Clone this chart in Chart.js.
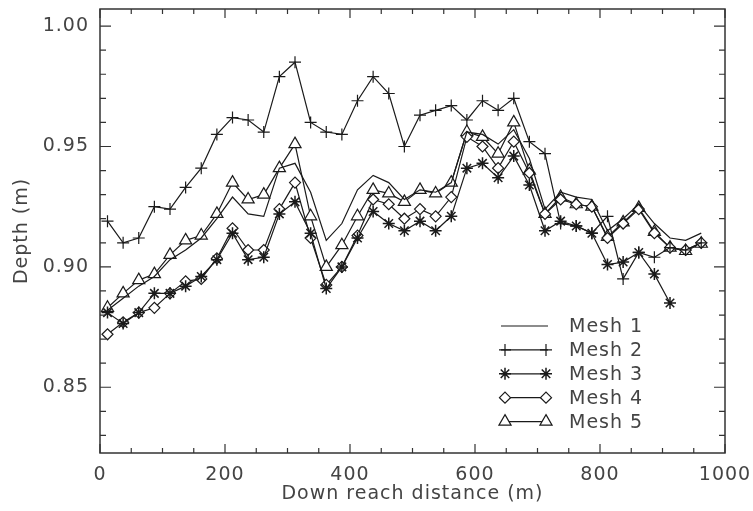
<!DOCTYPE html>
<html>
<head>
<meta charset="utf-8">
<script src="https://cdn.jsdelivr.net/npm/chart.js@4/dist/chart.umd.min.js"></script>
<style>
  body { margin: 0; background: #fff; }
  canvas { display: block; }
</style>
</head>
<body>
<canvas id="myChart" width="753" height="511"></canvas>
<script>
// down reach distance (m) of each cross section
var distance = [12, 37, 62, 87, 112, 137, 162, 187, 212, 237, 262, 287, 312, 337, 362, 387, 412, 437, 462, 487,
  512, 537, 562, 587, 612, 637, 662, 687, 712, 737, 762, 787, 812, 837, 862, 887, 912, 937, 962];

var mesh1 = [0.882, 0.887, 0.892, 0.896, 0.903, 0.907, 0.912, 0.920, 0.929, 0.922, 0.921, 0.941, 0.943, 0.931, 0.911,
  0.918, 0.932, 0.938, 0.935, 0.928, 0.932, 0.931, 0.935, 0.956, 0.955, 0.951, 0.957, 0.945, 0.924, 0.931, 0.929,
  0.928, 0.915, 0.920, 0.926, 0.918, 0.912, 0.911, 0.914];
var mesh2 = [0.919, 0.910, 0.912, 0.925, 0.924, 0.933, 0.941, 0.955, 0.962, 0.961, 0.956, 0.979, 0.985, 0.960, 0.956,
  0.955, 0.969, 0.979, 0.972, 0.950, 0.963, 0.965, 0.967, 0.961, 0.969, 0.965, 0.970, 0.952, 0.947, 0.918, 0.917,
  0.914, 0.921, 0.895, 0.906, 0.904, 0.908, 0.907, 0.910];
var mesh3 = [0.881, 0.8765, 0.881, 0.889, 0.889, 0.892, 0.896, 0.903, 0.914, 0.903, 0.904, 0.922, 0.927, 0.914, 0.891,
  0.900, 0.912, 0.923, 0.918, 0.915, 0.919, 0.915, 0.921, 0.941, 0.943, 0.937, 0.946, 0.934, 0.915, 0.919, 0.917,
  0.914, 0.901, 0.902, 0.906, 0.897, 0.885];
var mesh4 = [0.872, 0.877, 0.881, 0.883, 0.889, 0.894, 0.895, 0.9035, 0.916, 0.907, 0.907, 0.924, 0.935, 0.912, 0.8925,
  0.900, 0.913, 0.928, 0.926, 0.920, 0.924, 0.921, 0.929, 0.954, 0.950, 0.941, 0.952, 0.939, 0.922, 0.928, 0.926,
  0.925, 0.912, 0.918, 0.924, 0.914, 0.908, 0.907, 0.910];
var mesh5 = [0.883, 0.889, 0.8945, 0.897, 0.905, 0.911, 0.913, 0.922, 0.935, 0.928, 0.930, 0.941, 0.951, 0.921, 0.900,
  0.909, 0.921, 0.932, 0.9305, 0.927, 0.932, 0.9305, 0.935, 0.956, 0.954, 0.947, 0.960, 0.940, 0.922, 0.929, 0.926,
  0.925, 0.9125, 0.9185, 0.9245, 0.9145, 0.908, 0.9066, 0.9096];

var labels = ['Mesh 1', 'Mesh 2', 'Mesh 3', 'Mesh 4', 'Mesh 5'];

var xTicks = [0, 200, 400, 600, 800, 1000];
var xMinorTicks = [50, 100, 150, 250, 300, 350, 450, 500, 550, 650, 700, 750, 850, 900, 950];
var yTicks = [0.85, 0.90, 0.95, 1.00];
var yMinorTicks = [0.83, 0.84, 0.86, 0.87, 0.88, 0.89, 0.91, 0.92, 0.93, 0.94, 0.96, 0.97, 0.98, 0.99];

var ink = '#1a1a1a';
var textColor = '#444';
var font = { family: "'DejaVu Sans', sans-serif", size: 19, weight: 'normal' };

var styles = [
  { pointStyle: false, radius: 0, fill: ink },
  { pointStyle: 'cross', radius: 6, fill: ink },
  { pointStyle: 'star', radius: 6, fill: ink },
  { pointStyle: 'rectRot', radius: 5.5, fill: '#fff' },
  { pointStyle: 'triangle', radius: 7, fill: '#fff' }
];

function series(values) {
  return values.map(function (v, i) { return { x: distance[i], y: v }; });
}

var allValues = [mesh1, mesh2, mesh3, mesh4, mesh5];
var datasets = allValues.map(function (vals, k) {
  return {
    label: labels[k],
    data: series(vals),
    borderColor: ink,
    borderWidth: 1.2,
    pointStyle: styles[k].pointStyle,
    pointRadius: styles[k].radius,
    pointBorderColor: ink,
    pointBackgroundColor: styles[k].fill,
    pointBorderWidth: k === 2 ? 1.5 : 1.2,
    tension: 0
  };
});

// the plotting font is a bit wider than DejaVu, so space the letters out
var spacing = {
  id: 'spacing',
  beforeDraw: function (chart) { chart.ctx.letterSpacing = '1px'; }
};

// box round the plot, with ticks pointing inward on all four sides
var frame = {
  id: 'frame',
  afterDraw: function (chart) {
    var c = chart.ctx, a = chart.chartArea, x = chart.scales.x, y = chart.scales.y;
    c.save();
    c.strokeStyle = '#333';
    c.lineWidth = 1.5;
    c.strokeRect(a.left, a.top, a.right - a.left, a.bottom - a.top);
    c.lineWidth = 1.2;
    c.beginPath();
    function xt(v, len) {
      var px = x.getPixelForValue(v);
      c.moveTo(px, a.bottom); c.lineTo(px, a.bottom - len);
      c.moveTo(px, a.top); c.lineTo(px, a.top + len);
    }
    function yt(v, len) {
      var py = y.getPixelForValue(v);
      c.moveTo(a.left, py); c.lineTo(a.left + len, py);
      c.moveTo(a.right, py); c.lineTo(a.right - len, py);
    }
    xTicks.forEach(function (v) { xt(v, 9); });
    xMinorTicks.forEach(function (v) { xt(v, 5); });
    yTicks.forEach(function (v) { yt(v, 11); });
    yMinorTicks.forEach(function (v) { yt(v, 6); });
    c.stroke();
    c.restore();
  }
};

// legend: a short line with a marker at each end, then the label
var meshLegend = {
  id: 'meshLegend',
  afterDraw: function (chart) {
    var c = chart.ctx;
    c.save();
    c.font = font.weight + ' ' + font.size + 'px ' + font.family;
    c.textBaseline = 'middle';
    labels.forEach(function (lab, k) {
      var yy = 326 + k * 23.9;
      c.strokeStyle = ink;
      c.lineWidth = 1.2;
      c.beginPath();
      c.moveTo(501, yy); c.lineTo(548, yy);
      c.stroke();
      if (styles[k].pointStyle) {
        [505, 546].forEach(function (xx) {
          c.fillStyle = styles[k].fill;
          c.strokeStyle = ink;
          c.lineWidth = k === 2 ? 1.5 : 1.2;
          Chart.helpers.drawPoint(c, { pointStyle: styles[k].pointStyle, radius: styles[k].radius, rotation: 0, borderWidth: c.lineWidth }, xx, yy);
        });
      }
      c.fillStyle = textColor;
      c.fillText(lab, 569, yy + 1);
    });
    c.restore();
  }
};

function noEdgePadding(s) {
  s.paddingTop = 0; s.paddingBottom = 0; s.paddingLeft = 0; s.paddingRight = 0;
}

var ctx = document.getElementById('myChart');
var myChart = new Chart(ctx, {
  type: 'line',
  data: { datasets: datasets },
  options: {
    responsive: false,
    animation: false,
    layout: { padding: { left: 0, right: 28, top: 9, bottom: 0 } },
    plugins: { legend: { display: false }, tooltip: { enabled: false } },
    scales: {
      x: {
        type: 'linear',
        min: 0,
        max: 1000,
        afterFit: function (s) { s.height = 58; noEdgePadding(s); },
        afterBuildTicks: function (s) { s.ticks = xTicks.map(function (v) { return { value: v }; }); },
        grid: { display: false, drawTicks: false },
        border: { display: false },
        ticks: { padding: 11, maxRotation: 0, color: textColor, font: font, callback: function (v) { return String(v); } },
        title: { display: true, text: 'Down reach distance (m)', color: textColor, font: font, padding: { top: 0, bottom: 6 } }
      },
      y: {
        min: 0.8227,
        max: 1.0071,
        afterFit: function (s) { s.width = 100; noEdgePadding(s); },
        afterBuildTicks: function (s) { s.ticks = yTicks.map(function (v) { return { value: v }; }); },
        grid: { display: false, drawTicks: false },
        border: { display: false },
        ticks: { padding: 11, color: textColor, font: font, callback: function (v) { return v.toFixed(2); } },
        title: { display: true, text: 'Depth (m)', color: textColor, font: font, padding: { top: 11, bottom: 0 } }
      }
    }
  },
  plugins: [spacing, frame, meshLegend]
});
</script>
</body>
</html>
